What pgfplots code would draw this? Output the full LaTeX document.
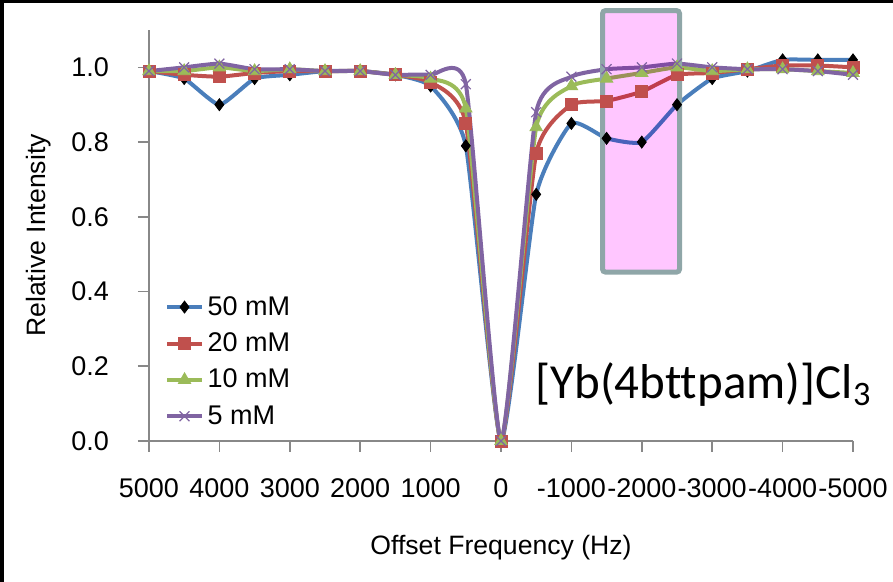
\documentclass[border=0pt]{standalone}
\usepackage{fontspec}
\setmainfont{Liberation Sans}
\newfontfamily\calibri[Ligatures=NoCommon]{Carlito}
\usepackage{pgfplots}
\pgfplotsset{compat=1.18}
\definecolor{cblue}{HTML}{4A7EBB}
\definecolor{cred}{HTML}{C0504D}
\definecolor{cgreen}{HTML}{9BBB59}
\definecolor{cpurple}{HTML}{8064A2}
\definecolor{axgray}{HTML}{888888}
\definecolor{boxborder}{HTML}{8FA6A8}
\definecolor{boxfill}{HTML}{FFC6FF}
\begin{document}
\begin{tikzpicture}
\useasboundingbox (-74.5pt,-70.5pt) rectangle (372pt,220.5pt);
\fill[black] (-74.5pt,219pt) rectangle (372pt,220.5pt);
\fill[black] (-74.5pt,-70.5pt) rectangle (-72.5pt,220.5pt);
\begin{axis}[
  at={(0,0)}, anchor=south west,
  scale only axis, width=352pt, height=205.5pt,
  xmin=-5000, xmax=5000, x dir=reverse,
  ymin=0, ymax=1.1,
  axis x line*=bottom, axis y line*=left,
  axis line style={axgray, line width=0.8pt, -},
  xtick={5000,4000,3000,2000,1000,0,-1000,-2000,-3000,-4000,-5000},
  xticklabels={5000,4000,3000,2000,1000,0,-1000,-2000,-3000,-4000,-5000},
  ytick={0,0.2,0.4,0.6,0.8,1.0},
  tick style={axgray, line width=0.8pt},
  major tick length=5.5pt, tick align=outside,
  /pgf/number format/assume math mode=true,
  yticklabel style={/pgf/number format/.cd, fixed, fixed zerofill, precision=1, /tikz/.cd, xshift=-11pt},
  xticklabel style={yshift=-10pt},
  ticklabel style={font=\fontsize{13.5}{15}\selectfont, text=black},
  xlabel={Offset Frequency (Hz)}, ylabel={Relative Intensity},
  label style={font=\fontsize{13.3}{15}\selectfont},
  x label style={at={(axis description cs:0.5,-0.26)}, anchor=center},
  y label style={at={(axis description cs:-0.157,0.5)}, anchor=center},
  legend style={at={(rel axis cs:0.02,0.368)}, anchor=north west, draw=none, fill=none,
    font=\fontsize{13.5}{16}\selectfont, row sep=3.3pt, inner sep=1pt},
  legend cell align=left,
  clip=false,
  every axis plot/.append style={smooth, tension=0.3, line width=2pt},
]
\addplot[cblue, mark=diamond*, mark size=3pt, mark options={fill=black, draw=black, line width=0.4pt}] coordinates {
(5000,0.99) (4500,0.97) (4000,0.90) (3500,0.97) (3000,0.98) (2500,0.99) (2000,0.99) (1500,0.98) (1000,0.95) (500,0.79) (0,0.0)
(-500,0.66) (-1000,0.85) (-1500,0.81) (-2000,0.80) (-2500,0.90) (-3000,0.97) (-3500,0.99) (-4000,1.02) (-4500,1.02) (-5000,1.02)};
\addlegendentry{50 mM}
\addplot[cred, mark=square*, mark size=3pt, mark options={fill=cred, draw=cred, line width=0.4pt}] coordinates {
(5000,0.99) (4500,0.98) (4000,0.975) (3500,0.985) (3000,0.99) (2500,0.99) (2000,0.99) (1500,0.98) (1000,0.96) (500,0.85) (0,0.0)
(-500,0.77) (-1000,0.90) (-1500,0.91) (-2000,0.935) (-2500,0.98) (-3000,0.985) (-3500,0.995) (-4000,1.005) (-4500,1.005) (-5000,1.0)};
\addlegendentry{20 mM}
\addplot[cgreen, mark=triangle*, mark size=3.6pt, mark options={fill=cgreen, draw=cgreen, line width=0.4pt}] coordinates {
(5000,0.99) (4500,0.99) (4000,1.0) (3500,0.99) (3000,0.995) (2500,0.99) (2000,0.99) (1500,0.98) (1000,0.97) (500,0.89) (0,0.0)
(-500,0.84) (-1000,0.95) (-1500,0.97) (-2000,0.985) (-2500,1.0) (-3000,0.99) (-3500,0.995) (-4000,0.995) (-4500,0.99) (-5000,0.985)};
\addlegendentry{10 mM}
\addplot[cpurple, mark=x, mark size=3.5pt, mark options={draw=cpurple, line width=0.6pt}] coordinates {
(5000,0.99) (4500,1.0) (4000,1.01) (3500,0.995) (3000,0.995) (2500,0.99) (2000,0.99) (1500,0.98) (1000,0.98) (500,0.955) (0,0.0)
(-500,0.88) (-1000,0.975) (-1500,0.995) (-2000,1.0) (-2500,1.01) (-3000,1.0) (-3500,0.995) (-4000,0.995) (-4500,0.99) (-5000,0.98)};
\addlegendentry{5 mM}
\begin{scope}[blend mode=multiply]
\fill[boxfill] (axis cs:-1442,0.452) rectangle (axis cs:-2536,1.152);
\end{scope}
\draw[boxborder, line width=2.5pt, rounded corners=1.5pt] (axis cs:-1442,0.452) rectangle (axis cs:-2536,1.152);
\node[anchor=base west, inner sep=0pt] at (axis cs:-483,0.115) {\calibri\fontsize{24.5}{27}\selectfont [Yb(4bttpam)]Cl\textsubscript{3}};
\end{axis}
\end{tikzpicture}
\end{document}
